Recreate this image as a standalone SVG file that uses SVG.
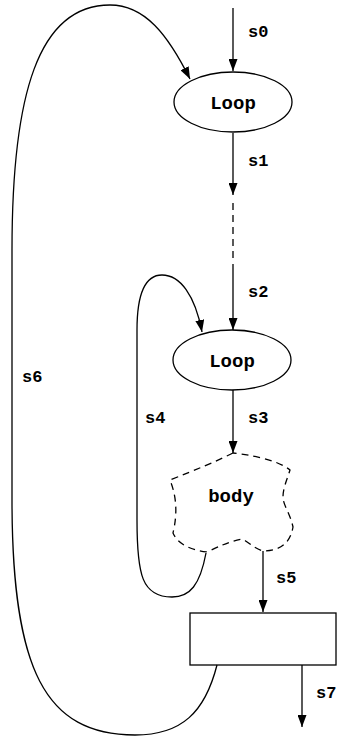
<svg xmlns="http://www.w3.org/2000/svg" width="343" height="738" viewBox="0 0 343 738">
<style>
.n{fill:none;stroke:#000;stroke-width:1.3}
.e{fill:none;stroke:#000;stroke-width:1.3}
.d{stroke-dasharray:7,5}
text{font-family:"Liberation Mono","Courier New",monospace;font-weight:bold;fill:#000}
.nl{font-size:19px;text-anchor:middle}
.el{font-size:17px}
</style>
<defs>
<marker id="ah" markerWidth="12" markerHeight="9" refX="12" refY="4.5" orient="auto" markerUnits="userSpaceOnUse">
<path d="M0,0 L12,4.5 L0,9 Z" fill="#000"/>
</marker>
</defs>
<g id="connectors">
<path class="e" d="M233,8 L233,71" marker-end="url(#ah)"/>
<path class="e" d="M233,133 L233,195" marker-end="url(#ah)"/>
<path class="e d" d="M233,203 L233,262"/>
<path class="e" d="M233,264 L233,330" marker-end="url(#ah)"/>
<path class="e" d="M233,390 L233,453" marker-end="url(#ah)"/>
<path class="e" d="M263,551 L263,612" marker-end="url(#ah)"/>
<path class="e" d="M302,665 L302,727" marker-end="url(#ah)"/>
<path class="e" d="M206,553 C200,585 190,597 172,597 C142,597 137,575 137,520 L137,330 C137,292 146,275 162,275 C180,275 195,295 202,332" marker-end="url(#ah)"/>
<path class="e" d="M217,665 C205,712 182,735 135,735 C45,735 12,670 12,500 L12,250 C12,95 38,5 110,5 C145,5 168,35 190,79" marker-end="url(#ah)"/>
</g>
<g id="labels">
<text class="el" x="248" y="37">s0</text>
<text class="el" x="248" y="166">s1</text>
<text class="el" x="248" y="297">s2</text>
<text class="el" x="248" y="423">s3</text>
<text class="el" x="145" y="423">s4</text>
<text class="el" x="276" y="583">s5</text>
<text class="el" x="22" y="382">s6</text>
<text class="el" x="316" y="698">s7</text>
</g>
<g id="loop1">
<ellipse class="n" cx="233" cy="102" rx="59" ry="30"/>
<text class="nl" x="233" y="109">Loop</text>
</g>
<g id="loop2">
<ellipse class="n" cx="232" cy="360" rx="59" ry="30"/>
<text class="nl" x="232" y="367">Loop</text>
</g>
<g id="body">
<path class="n d" d="M233,453 C215,462 195,470 170,480 C176,495 178,512 173,533 C178,545 192,550 207,552 C220,546 230,541 243,539 C250,544 256,549 263,551 C278,551 290,545 293,527 C290,513 283,505 283,497 C283,488 287,480 290,470 C280,462 260,456 233,453 Z"/>
<text class="nl" x="231" y="502">body</text>
</g>
<g id="box">
<rect class="n" x="190" y="613" width="146" height="52"/>
</g>
</svg>
